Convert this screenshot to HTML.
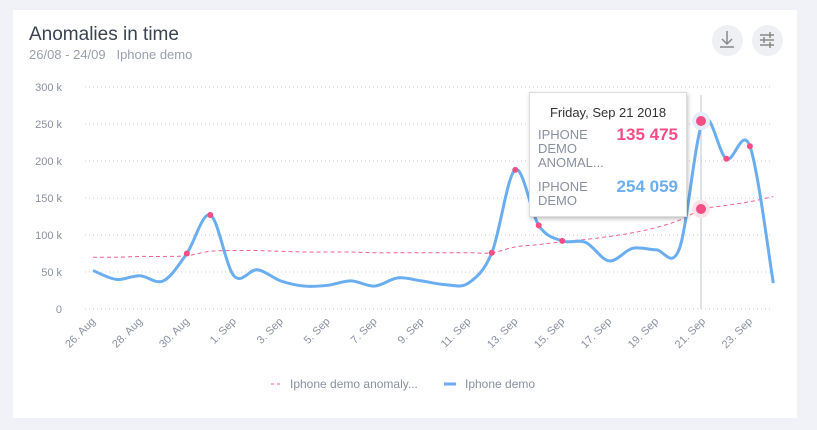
<!DOCTYPE html>
<html><head><meta charset="utf-8"><style>
body{margin:0;width:817px;height:430px;background:#f0f2f7;font-family:"Liberation Sans",sans-serif;overflow:hidden;position:relative}
.card{position:absolute;left:13px;top:10px;width:784px;height:408px;background:#fff}
.t{position:absolute;left:29px;top:24px;font-size:19px;color:#3a4450}
.s{position:absolute;left:29px;top:47px;font-size:13px;color:#9aa0ad}
.btn{position:absolute;top:25px;width:31px;height:31px;border-radius:50%;background:#eef0f4}
.tip{position:absolute;left:529px;top:92px;width:156px;height:123px;background:#fff;border:1px solid #ddd;box-shadow:1px 2px 4px rgba(0,0,0,.25);font-size:13px}
</style></head><body>
<div class="card"></div>
<div class="t">Anomalies in time</div>
<div class="s">26/08 - 24/09 &nbsp; Iphone demo</div>
<div class="btn" style="left:712px"></div><div class="btn" style="left:752px"></div>
<svg width="817" height="430" style="position:absolute;left:0;top:0">
<g stroke="#888" stroke-width="1.5" fill="none"><path d="M727 31v13M722 39l5 5 5-5M720 47h14"/><path d="M760 35h14M760 40h14M760 45h14M770 32v6M764 37v6M770 42v6"/></g>
<g id="grid" stroke="#c8ccd4" stroke-dasharray="1,3"></g>
<g id="yl" font-size="11" fill="#8a90a0" text-anchor="end"></g>
<g id="xl" font-size="11" fill="#8a90a0" text-anchor="end"></g>
<line x1="701" y1="95" x2="701" y2="309" stroke="#c0c4d6"/>
<path id="a" fill="none" stroke="#f06292" stroke-width="1" stroke-dasharray="4,3"/>
<path id="b" fill="none" stroke="#6aaef0" stroke-width="3"/>
<g id="pts" fill="#f54e84"></g>
<circle cx="701" cy="121" r="9" fill="#e3eefb"/><circle cx="701" cy="121" r="5" fill="#f54e84"/>
<circle cx="701" cy="209" r="9" fill="#fde2ea"/><circle cx="701" cy="209" r="5" fill="#f54e84"/>
<line x1="271" y1="384" x2="283" y2="384" stroke="#f06292" stroke-dasharray="3,3"/>
<text x="290" y="388" font-size="12" fill="#8a90a0">Iphone demo anomaly...</text>
<line x1="444" y1="384" x2="456" y2="384" stroke="#6aaef0" stroke-width="3"/>
<text x="465" y="388" font-size="12" fill="#8a90a0">Iphone demo</text>
</svg>
<div class="tip">
<div style="position:absolute;left:0;width:156px;text-align:center;top:12px;font-size:13px;color:#333">Friday, Sep 21 2018</div>
<div style="position:absolute;left:8px;top:35px;color:#8a90a0;line-height:14px">IPHONE<br>DEMO<br>ANOMAL...</div>
<div style="position:absolute;right:8px;top:32px;color:#f54e84;font-size:17px;font-weight:bold">135 475</div>
<div style="position:absolute;left:8px;top:87px;color:#8a90a0;line-height:14px">IPHONE<br>DEMO</div>
<div style="position:absolute;right:8px;top:84px;color:#6aaef0;font-size:17px;font-weight:bold">254 059</div>
</div>
<script>
const X=i=>93+23.46*i,Y=v=>309-v*0.74;
const b=[52,40,45,38,75,127,45,53,38,31,32,38,31,42,38,33,35,76,188,113,92,90,65,82,80,82,254,203,220,35];
const a=[70,70,71,71,72,78,79,79,78,77,77,77,76,76,76,76,76,76,84,87,91,94,98,103,110,120,135,140,145,152];
function path(d){const p=d.map((v,i)=>[X(i),Y(v)]);let s="M"+p[0];for(let i=0;i<p.length-1;i++){const p0=p[i-1]||p[i],p1=p[i],p2=p[i+1],p3=p[i+2]||p2;const c1=[p1[0]+(p2[0]-p0[0])/6,p1[1]+(p2[1]-p0[1])/6],c2=[p2[0]-(p3[0]-p1[0])/6,p2[1]-(p3[1]-p1[1])/6];s+="C"+c1+" "+c2+" "+p2;}return s;}
document.getElementById('b').setAttribute('d',path(b));
document.getElementById('a').setAttribute('d',path(a));
let g="",yl="",xl="",pt="";
for(let k=0;k<=6;k++){const y=309-37*k;g+=`<line x1="85" y1="${y}" x2="772" y2="${y}"/>`;yl+=`<text x="62" y="${y+4}">${k?k*50+' k':'0'}</text>`;}
const L=["26. Aug","28. Aug","30. Aug","1. Sep","3. Sep","5. Sep","7. Sep","9. Sep","11. Sep","13. Sep","15. Sep","17. Sep","19. Sep","21. Sep","23. Sep"];
L.forEach((t,k)=>{const x=X(2*k)+3;xl+=`<text transform="translate(${x},322) rotate(-45)">${t}</text>`;});
[4,5,17,18,19,20,27,28].forEach(i=>pt+=`<circle cx="${X(i)}" cy="${Y(b[i])}" r="3"/>`);
grid.innerHTML=g;document.getElementById('yl').innerHTML=yl;document.getElementById('xl').innerHTML=xl;pts.innerHTML=pt;
</script>
</body></html>
